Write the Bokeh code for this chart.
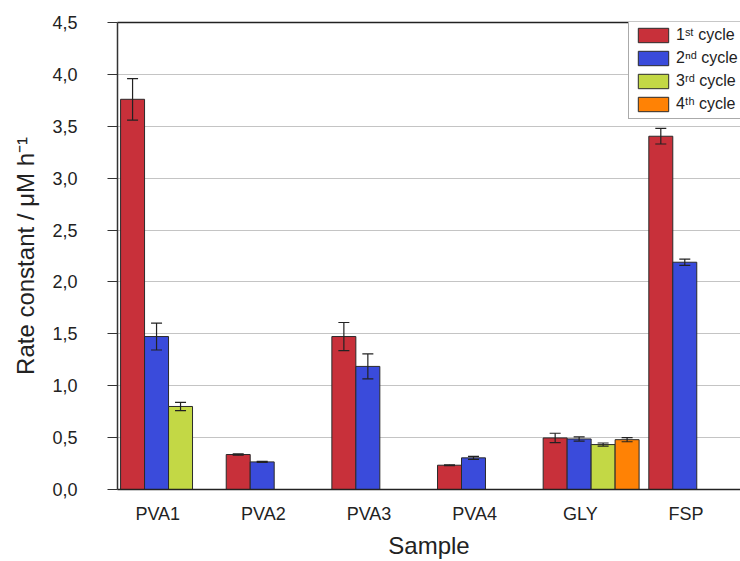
import math
from bokeh.plotting import figure
from bokeh.models import (ColumnDataSource, Whisker, TeeHead, Legend, LegendItem,
                          LinearAxis, FixedTicker, CustomJSTickFormatter, Range1d)
from bokeh.embed import file_html
from bokeh.resources import INLINE

# ---- data ----
samples = ["PVA1", "PVA2", "PVA3", "PVA4", "GLY", "FSP"]
cycle1 = [3.76, 0.337, 1.474, 0.234, 0.497, 3.404]
cycle1_err = [0.20, 0.006, 0.135, 0.004, 0.045, 0.075]
cycle2 = [1.474, 0.266, 1.186, 0.305, 0.487, 2.19]
cycle2_err = [0.13, 0.005, 0.12, 0.015, 0.02, 0.03]
cycle3 = [0.80, None, None, None, 0.433, None]
cycle3_err = [0.04, None, None, None, 0.015, None]
cycle4 = [None, None, None, None, 0.48, None]
cycle4_err = [None, None, None, None, 0.02, None]
series_labels = ["1\u02e2\u1d57 cycle", "2\u207f\u1d48 cycle", "3\u02b3\u1d48 cycle", "4\u1d57\u02b0 cycle"]
colors = ["#C8303A", "#3A4BDB", "#C3D845", "#FF8205"]
y_ticks = [0.0, 0.5, 1.0, 1.5, 2.0, 2.5, 3.0, 3.5, 4.0, 4.5]

FONT = "Liberation Sans"
TXT = "#222222"

p = figure(width=740, height=561, output_backend="svg", toolbar_location=None,
           x_range=Range1d(0.619, 6.516), y_range=Range1d(0, 4.5),
           min_border_left=117, min_border_right=0, min_border_top=22,
           min_border_bottom=71)
p.outline_line_color = None
p.background_fill_color = "white"
p.xgrid.grid_line_color = None
p.ygrid.grid_line_color = "#c4c4c4"
p.ygrid.grid_line_width = 1

bar_w = 0.227
all_vals = [(cycle1, cycle1_err), (cycle2, cycle2_err), (cycle3, cycle3_err), (cycle4, cycle4_err)]
items = []
for k, (vals, errs) in enumerate(all_vals):
    xs, tops, lo, hi = [], [], [], []
    for i, v in enumerate(vals):
        if v is None:
            continue
        xs.append(i + 1 + (k - 1.05) * bar_w)
        tops.append(v)
        lo.append(v - errs[i])
        hi.append(v + errs[i])
    src = ColumnDataSource(dict(x=xs, top=tops, lower=lo, upper=hi))
    r = p.vbar(x="x", top="top", width=bar_w, source=src, fill_color=colors[k],
               line_color="#2a2a2a", line_width=1)
    items.append(LegendItem(label=series_labels[k], renderers=[r]))
    w = Whisker(base="x", lower="lower", upper="upper", source=src,
                line_color="#222222", line_width=1.2, level="annotation",
                upper_head=TeeHead(size=11, line_color="#222222", line_width=1.2),
                lower_head=TeeHead(size=11, line_color="#222222", line_width=1.2))
    p.add_layout(w)

# y axis
p.yaxis.ticker = FixedTicker(ticks=y_ticks)
p.yaxis.formatter = CustomJSTickFormatter(code="return tick.toFixed(1).replace('.', ',');")
p.yaxis.major_tick_out = 10
p.yaxis.major_tick_in = 0
p.yaxis.minor_tick_line_color = None
p.yaxis.major_label_standoff = 30
p.yaxis.axis_label = "Rate constant / \u03bcM h\u207b\u00b9"
p.yaxis.axis_label_standoff = 10
p.yaxis.axis_line_color = "#333333"
p.yaxis.axis_line_width = 1.5
p.yaxis.major_tick_line_color = "#333333"

# x axis
p.xaxis.ticker = FixedTicker(ticks=list(range(1, len(samples) + 1)))
p.xaxis.major_label_overrides = {i + 1: s for i, s in enumerate(samples)}
p.xaxis.major_tick_line_color = None
p.xaxis.minor_tick_line_color = None
p.xaxis.major_label_standoff = 8
p.xaxis.axis_label = "Sample"
p.xaxis.axis_label_standoff = 5
p.xaxis.axis_line_color = "#222222"
p.xaxis.axis_line_width = 1.5

for ax in (p.xaxis, p.yaxis):
    ax.major_label_text_font = FONT
    ax.major_label_text_font_size = "18px"
    ax.major_label_text_color = TXT
    ax.axis_label_text_font = FONT
    ax.axis_label_text_font_size = "24px"
    ax.axis_label_text_font_style = "normal"
    ax.axis_label_text_color = TXT

# top frame line
top_ax = LinearAxis(ticker=FixedTicker(ticks=[]), axis_line_color="#222222",
                    axis_line_width=1.5, major_tick_line_color=None,
                    minor_tick_line_color=None, major_label_text_font_size="0px")
p.add_layout(top_ax, "above")

legend = Legend(items=items, location=(511, 370), orientation="vertical")
legend.glyph_width = 38
legend.glyph_height = 18
legend.label_height = 18
legend.spacing = 5
legend.padding = 5
legend.margin = 0
legend.label_standoff = 4
legend.label_text_font = FONT
legend.label_text_font_size = "16px"
legend.label_text_color = TXT
legend.border_line_color = "#555555"
legend.border_line_width = 1
legend.background_fill_color = "white"
legend.background_fill_alpha = 1
p.add_layout(legend)

open("out.html", "w").write(file_html(p, INLINE))
